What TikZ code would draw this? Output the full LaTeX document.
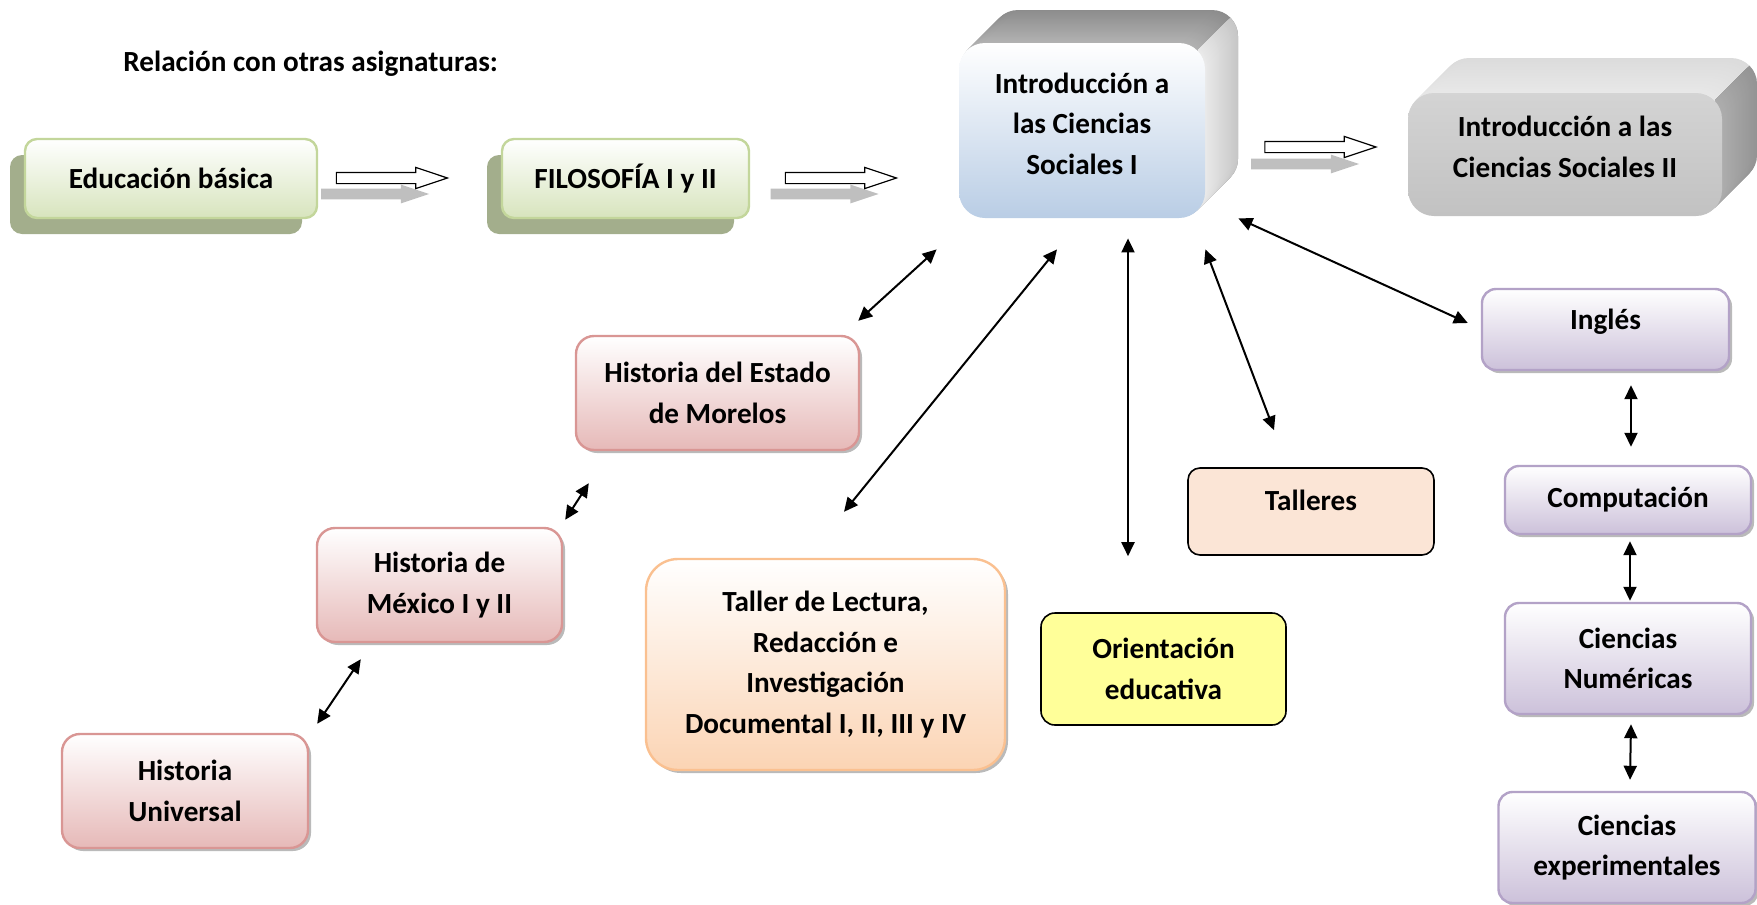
\documentclass[tikz,border=0pt]{standalone}
\usepackage{fontspec}
\setmainfont{Carlito}
\usepackage{tikz}
\usepackage{xcolor}
\usetikzlibrary{shapes.arrows}
\usetikzlibrary{shadows}
\usetikzlibrary{calc}
\usetikzlibrary{arrows.meta}

\definecolor{verdeborde}{HTML}{C3D69B}
\definecolor{verdefondo}{HTML}{D7E4BD}
\definecolor{olivasombra}{HTML}{A3AE8C}
\definecolor{rojoborde}{HTML}{D99694}
\definecolor{rojofondo}{HTML}{E6B9B8}
\definecolor{moradoborde}{HTML}{B3A2C7}
\definecolor{moradofondo}{HTML}{CCC1DA}
\definecolor{naranjaborde}{HTML}{FAC090}
\definecolor{naranjafondo}{HTML}{FBD4B4}
\definecolor{durazno}{HTML}{FBE5D6}
\definecolor{amarillo}{HTML}{FFFF99}
\definecolor{azulfondo}{HTML}{B9CDE5}

\tikzset{
	txt/.style={font=\fontsize{14.6pt}{20.3pt}\selectfont\bfseries, align=center, inner sep=0pt},
	caja/.style={txt, rectangle, line width=1.2pt},
	sombra/.style={drop shadow={shadow xshift=1.5pt, shadow yshift=-1.5pt, fill=black!45, opacity=.6}},
	verde/.style={caja, draw=verdeborde, top color=white, bottom color=verdefondo, rounded corners=6pt,
		drop shadow={shadow xshift=-7.5pt, shadow yshift=-8pt, fill=olivasombra, opacity=1}},
	rojo/.style={caja, draw=rojoborde, top color=white, bottom color=rojofondo, rounded corners=9pt, sombra},
	morado/.style={caja, draw=moradoborde, top color=white, bottom color=moradofondo, rounded corners=7pt, sombra},
	naranja/.style={caja, draw=naranjaborde, top color=white, bottom color=naranjafondo, rounded corners=16pt, sombra},
	plana/.style={caja, draw=black, line width=0.8pt, rounded corners=7pt},
	hueca/.style={single arrow, draw=black, fill=white, line width=0.6pt, inner sep=0pt,
		text height=2.5pt, text depth=2.5pt, minimum height=55.5pt,
		single arrow head extend=2.5pt, single arrow tip angle=37},
	gris/.style={single arrow, fill=black!25, inner sep=0pt,
		text height=2.5pt, text depth=2.5pt, minimum height=54pt,
		single arrow head extend=2pt, single arrow tip angle=37},
	rel/.style={{Triangle[length=7pt,width=6.5pt]}-{Triangle[length=7pt,width=6.5pt]}, line width=1pt}
}

\begin{document}
\begin{tikzpicture}[x=0.5pt,y=-0.5pt]
	\useasboundingbox (0,0) rectangle (1757,905);

	\node[txt, anchor=west] (titulo) at (123,64) {Relación con otras asignaturas:};

	% cadena superior
	\node[verde, minimum width=146pt, minimum height=39.5pt] (edu) at (171,178.5) {Educación básica};
	\node[verde, minimum width=123.5pt, minimum height=39.5pt] (filo) at (625.5,178.5) {FILOSOFÍA I y II};

	% volumen de Introduccion I
	\foreach \i in {33,32,...,1}{
		\pgfmathsetmacro\k{30+15*\i/33}
		\fill[black!\k, rounded corners=13pt] (959+\i,43-\i) rectangle (1205+\i,218-\i);
	}
	\begin{scope}
		\clip (1198,50) -- (1298,-50) -- (1300,300) -- (1198,300) -- cycle;
		\foreach \i in {33,32,...,1}{
			\pgfmathsetmacro\k{8+14*\i/33}
			\fill[black!\k, rounded corners=13pt] (959+\i,43-\i) rectangle (1205+\i,218-\i);
		}
	\end{scope}
	\node[txt, top color=white, bottom color=azulfondo, rounded corners=13pt, text depth=7pt,
		minimum width=123pt, minimum height=87.5pt] (intro) at (1082,130.5) {Introducción a\\las Ciencias\\Sociales I};

	% volumen de Introduccion II
	\foreach \i in {35,34,...,1}{
		\pgfmathsetmacro\k{9+5*\i/35}
		\fill[black!\k, rounded corners=13pt] (1408+\i,93-\i) rectangle (1722+\i,216-\i);
	}
	\begin{scope}
		\clip (1715,100) -- (1815,0) -- (1815,300) -- (1715,300) -- cycle;
		\foreach \i in {35,34,...,1}{
			\pgfmathsetmacro\k{32+10*\i/35}
			\fill[black!\k, rounded corners=13pt] (1408+\i,93-\i) rectangle (1722+\i,216-\i);
		}
	\end{scope}
	\node[txt, top color=black!17, bottom color=black!24, rounded corners=13pt, text depth=8pt,
		minimum width=157pt, minimum height=61.5pt] (intro2) at (1565,154.5) {Introducción a las\\Ciencias Sociales II};

	% flechas de bloque
	\node[gris] (g1) at (367,194) {};
	\node[hueca] (h1) at (383.5,178) {};
	\node[gris] (g2) at (816.5,194) {};
	\node[hueca] (h2) at (832.5,178) {};
	\node[gris] (g3) at (1297,164) {};
	\node[hueca] (h3) at (1312,147) {};

	% historias
	\node[rojo, minimum width=141.5pt, minimum height=57pt] (estado) at (717.5,393) {Historia del Estado\\de Morelos};
	\node[rojo, minimum width=122.5pt, minimum height=57pt] (mexico) at (439.5,585) {Historia de\\México I y II};
	\node[rojo, minimum width=123pt, minimum height=57pt] (universal) at (185,791) {Historia\\Universal};

	\node[naranja, minimum width=179.5pt, minimum height=105.5pt] (taller) at (825.5,664.5)
		{Taller de Lectura,\\Redacción e\\Investigación\\Documental I, II, III y IV};
	\node[plana, fill=amarillo, minimum width=122.5pt, minimum height=56pt] (orient) at (1163.5,669) {Orientación\\educativa};
	\node[plana, fill=durazno, rounded corners=6pt, text depth=11pt,
		minimum width=123pt, minimum height=43.5pt] (talleres) at (1311,511.5) {Talleres};

	% columna derecha
	\node[morado, text depth=10pt, minimum width=123.5pt, minimum height=40.5pt] (ingles) at (1605.5,329.5) {Inglés};
	\node[morado, minimum width=123pt, minimum height=34pt] (comp) at (1628,500) {Computación};
	\node[morado, minimum width=123pt, minimum height=55.5pt] (num) at (1628,658.5) {Ciencias\\Numéricas};
	\node[morado, minimum width=128.5pt, minimum height=55.5pt] (exp) at (1627,847.5) {Ciencias\\experimentales};

	% relaciones
	\draw[rel] ($(intro.south west)+(-22,31)$) -- ($(estado.north east)+(-2,-14)$);
	\draw[rel] ($(intro.south)+(-25,31)$) -- ($(taller.north)+(18.5,-46)$);
	\draw[rel] ($(intro.south)+(46,20)$) -- ($(orient.north)+(-35.5,-56)$);
	\draw[rel] ($(intro.south east)+(0,31)$) -- ($(talleres.north)+(-37,-37)$);
	\draw[rel] ($(intro.south east)+(33,0)$) -- ($(ingles.west)+(-13,-6.5)$);
	\draw[rel] ($(estado.south west)+(14,32)$) -- ($(mexico.north east)+(2,-7)$);
	\draw[rel] ($(mexico.south west)+(45,16)$) -- ($(universal.north east)+(8,-9)$);
	\draw[rel] ($(ingles.south)+(25.5,14)$) -- ($(comp.north)+(3,-18)$);
	\draw[rel] ($(comp.south)+(2,6)$) -- ($(num.north)+(2,-1)$);
	\draw[rel] ($(num.south)+(3,9)$) -- ($(exp.north)+(3,-11)$);

\end{tikzpicture}
\end{document}
